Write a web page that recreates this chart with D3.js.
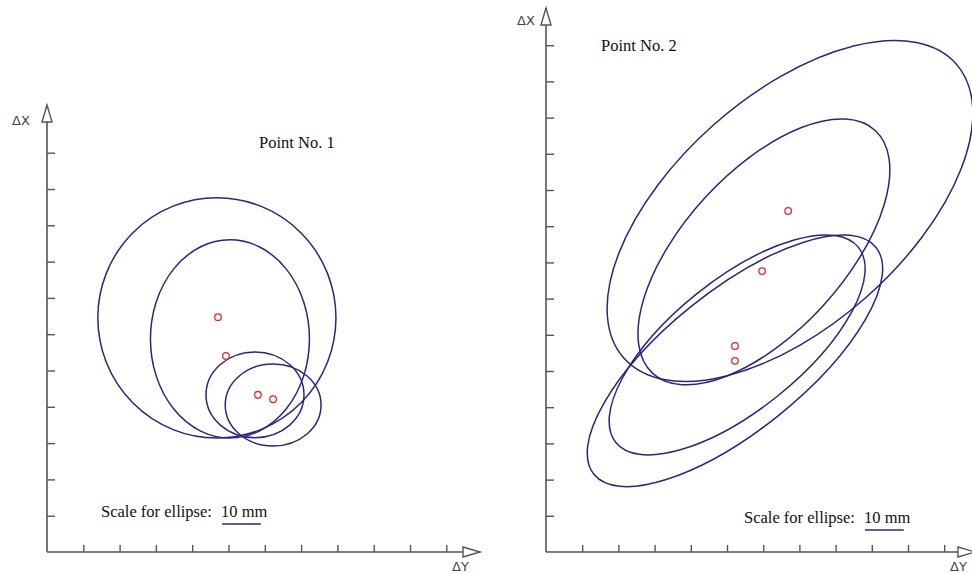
<!DOCTYPE html>
<html><head><meta charset="utf-8">
<script src="https://cdn.jsdelivr.net/npm/d3@7"></script>
<style>body{margin:0;background:#fff}svg{display:block}</style>
</head><body>
<script>
// ---- data (axis units, 1 unit = 1 tick interval) ----
const panelTitles = ["Point No. 1", "Point No. 2"];
const xTicks1 = [1,2,3,4,5,6,7,8,9,10,11];
const yTicks1 = [1,2,3,4,5,6,7,8,9,10,11];
const xTicks2 = [1,2,3,4,5,6,7,8,9,10,11];
const yTicks2 = [1,2,3,4,5,6,7,8,9,10,11,12,13,14];
// panel 1 points
const p1X = [4.71, 4.93, 5.81, 6.23];
const p1Y = [6.47, 5.40, 4.33, 4.21];
// panel 1 ellipses: centre, semi-axes, rotation (deg)
const e1CX = [4.68, 5.04, 5.73, 6.23];
const e1CY = [6.45, 5.87, 4.33, 4.05];
const e1RX = [3.28, 2.19, 1.35, 1.32];
const e1RY = [3.31, 2.73, 1.18, 1.13];
const e1Rot = [0, 0, 0, 0];
// panel 2 points
const p2X = [6.69, 5.97, 5.22, 5.22];
const p2Y = [9.42, 7.76, 5.69, 5.28];
// panel 2 ellipses
const e2CX = [6.74, 6.02, 5.28, 5.22];
const e2CY = [9.42, 8.29, 5.72, 5.28];
const e2RX = [6.13, 4.55, 4.30, 5.00];
const e2RY = [3.18, 2.21, 1.80, 1.93];
const e2Rot = [41.5, 47.5, 38.8, 38.8];
const scaleLabel = "Scale for ellipse: ";
const scaleUnit = "10 mm";
const scaleBarLen = 1.07; // 10 mm in axis units

const W = 972, H = 574;
const svg = d3.select("body").append("svg").attr("width", W).attr("height", H);
const AXIS = "#555", ELL = "#2b2580", PT = "#e8262c";
const SERIF = "Liberation Serif, Times New Roman, serif";

function panel(cfg) {
  const x = d3.scaleLinear().domain([0, cfg.xMax]).range([cfg.ox, cfg.ox + cfg.unit * cfg.xMax]);
  const y = d3.scaleLinear().domain([0, cfg.yMax]).range([cfg.oy, cfg.oy - cfg.unit * cfg.yMax]);
  const g = svg.append("g");
  const xa = g.append("g").attr("transform", `translate(0,${cfg.oy})`)
    .call(d3.axisTop(x).tickValues(cfg.xTicks).tickSize(7).tickFormat(""));
  xa.select(".domain").remove();
  xa.selectAll("line").attr("stroke", AXIS).attr("stroke-width", 1.4);
  const ya = g.append("g").attr("transform", `translate(${cfg.ox},0)`)
    .call(d3.axisRight(y).tickValues(cfg.yTicks).tickSize(8).tickFormat(""));
  ya.select(".domain").remove();
  ya.selectAll("line").attr("stroke", AXIS).attr("stroke-width", 1.4);
  g.append("line").attr("x1", cfg.ox).attr("x2", cfg.xEnd).attr("y1", cfg.oy).attr("y2", cfg.oy)
    .attr("stroke", AXIS).attr("stroke-width", 1.6);
  g.append("line").attr("x1", cfg.ox).attr("x2", cfg.ox).attr("y1", cfg.oy).attr("y2", cfg.yEnd)
    .attr("stroke", AXIS).attr("stroke-width", 1.6);
  g.append("path").attr("d", `M${cfg.xEnd - 17},${cfg.oy - 5}L${cfg.xEnd},${cfg.oy}L${cfg.xEnd - 17},${cfg.oy + 5}Z`)
    .attr("fill", "#fff").attr("stroke", AXIS).attr("stroke-width", 1.4);
  g.append("path").attr("d", `M${cfg.ox - 5},${cfg.yEnd + 17}L${cfg.ox},${cfg.yEnd}L${cfg.ox + 5},${cfg.yEnd + 17}Z`)
    .attr("fill", "#fff").attr("stroke", AXIS).attr("stroke-width", 1.4);
  g.append("text").attr("x", cfg.dxX).attr("y", cfg.dxY).text("ΔX")
    .attr("font-family", "DejaVu Sans, sans-serif").attr("font-size", 13).attr("fill", "#444");
  g.append("text").attr("x", cfg.dyX).attr("y", cfg.dyY).text("ΔY")
    .attr("font-family", "DejaVu Sans, sans-serif").attr("font-size", 13).attr("fill", "#444");
  cfg.ecx.forEach((cx, i) => {
    const px = x(cx), py = y(cfg.ecy[i]);
    g.append("ellipse").attr("cx", px).attr("cy", py)
      .attr("rx", x(cfg.erx[i]) - x(0)).attr("ry", y(0) - y(cfg.ery[i]))
      .attr("transform", `rotate(${-cfg.erot[i]},${px},${py})`)
      .attr("fill", "none").attr("stroke", ELL).attr("stroke-width", 1.5);
  });
  cfg.px.forEach((vx, i) => {
    g.append("circle").attr("cx", x(vx)).attr("cy", y(cfg.py[i])).attr("r", 3.3)
      .attr("fill", "#fff").attr("stroke", PT).attr("stroke-width", 1.3);
  });
  g.append("text").attr("x", cfg.tX).attr("y", cfg.tY).text(cfg.title)
    .attr("font-family", SERIF).attr("font-size", 16.5).attr("fill", "#111");
  const t = g.append("text").attr("x", cfg.sX).attr("y", cfg.sY)
    .attr("font-family", SERIF).attr("font-size", 16.5).attr("fill", "#111");
  t.append("tspan").text(scaleLabel);
  const t2 = t.append("tspan").attr("dx", 5).text(scaleUnit);
  const bb = t2.node().getBBox();
  const barW = x(scaleBarLen) - x(0);
  g.append("line").attr("x1", bb.x + 1).attr("x2", bb.x + 1 + barW).attr("y1", cfg.sY + 7).attr("y2", cfg.sY + 7)
    .attr("stroke", ELL).attr("stroke-width", 1.3);
}

panel({ox: 47, oy: 552, unit: 36.3, xMax: 12, yMax: 12, xEnd: 480, yEnd: 105,
  xTicks: xTicks1, yTicks: yTicks1, dxX: 12, dxY: 125, dyX: 452, dyY: 571,
  ecx: e1CX, ecy: e1CY, erx: e1RX, ery: e1RY, erot: e1Rot, px: p1X, py: p1Y,
  title: panelTitles[0], tX: 259, tY: 148, sX: 101, sY: 517});
panel({ox: 546, oy: 552, unit: 36.2, xMax: 12, yMax: 14, xEnd: 975, yEnd: 8,
  xTicks: xTicks2, yTicks: yTicks2, dxX: 517, dxY: 25, dyX: 950, dyY: 571,
  ecx: e2CX, ecy: e2CY, erx: e2RX, ery: e2RY, erot: e2Rot, px: p2X, py: p2Y,
  title: panelTitles[1], tX: 601, tY: 51, sX: 744, sY: 523});
</script>
</body></html>
